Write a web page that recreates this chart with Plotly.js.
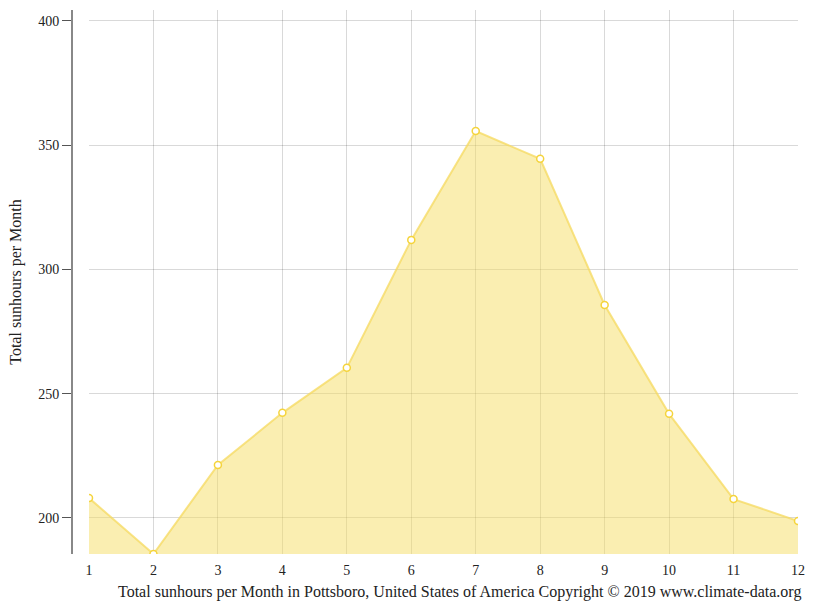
<!DOCTYPE html>
<html>
<head>
<meta charset="utf-8">
<script src="https://cdn.plot.ly/plotly-3.0.1.min.js"></script>
<style>html,body{margin:0;padding:0;background:#fff;}#chart{width:815px;height:611px;}</style>
</head>
<body>
<div id="chart"></div>
<script>
const months = [1, 2, 3, 4, 5, 6, 7, 8, 9, 10, 11, 12];
const sunhours = [208.0, 185.5, 221.3, 242.3, 260.4, 311.9, 355.7, 344.5, 285.7, 241.9, 207.6, 198.8];
const yTicks = [200, 250, 300, 350, 400];
const yTitle = 'Total sunhours per Month';
const xTitle = 'Total sunhours per Month in Pottsboro, United States of America Copyright © 2019 www.climate-data.org';

const font = 'Liberation Serif, Times New Roman, serif';

const trace = {
  x: months,
  y: sunhours,
  type: 'scatter',
  mode: 'lines+markers',
  fill: 'tozeroy',
  fillcolor: 'rgba(246, 221, 100, 0.5)',
  line: {color: 'rgba(246, 218, 95, 0.75)', width: 2},
  marker: {size: 7, color: '#ffffff', line: {color: '#f5d43c', width: 1.5}},
  hoverinfo: 'none'
};

const layout = {
  width: 815,
  height: 611,
  margin: {l: 89, r: 17, t: 10, b: 57},
  paper_bgcolor: '#ffffff',
  plot_bgcolor: '#ffffff',
  showlegend: false,
  font: {family: font, size: 14, color: '#222'},
  xaxis: {
    range: [1, 12],
    tickvals: months,
    ticktext: months.map(String),
    showgrid: true,
    gridcolor: 'rgba(0,0,0,0.15)',
    gridwidth: 1,
    zeroline: false,
    showline: false,
    ticks: '',
    ticklabelstandoff: 6,
    tickfont: {family: font, size: 14, color: '#222'},
    fixedrange: true
  },
  yaxis: {
    range: [185.5, 404.4],
    tickvals: yTicks,
    ticktext: yTicks.map(String),
    showgrid: true,
    gridcolor: 'rgba(0,0,0,0.15)',
    gridwidth: 1,
    zeroline: false,
    showline: true,
    linecolor: '#888',
    linewidth: 2,
    ticks: 'outside',
    ticklen: 9,
    tickwidth: 1,
    tickcolor: '#555',
    anchor: 'free',
    position: 0,
    shift: -17,
    tickfont: {family: font, size: 14, color: '#222'},
    title: {text: yTitle, font: {family: font, size: 16, color: '#222'}, standoff: 12},
    fixedrange: true
  },
  annotations: [{
    text: xTitle,
    xref: 'paper', yref: 'paper',
    x: (803 - 89) / 709, y: 0,
    xanchor: 'right', yanchor: 'middle',
    yshift: -38,
    showarrow: false,
    font: {family: font, size: 16, color: '#222'}
  }]
};

Plotly.newPlot('chart', [trace], layout, {displayModeBar: false, staticPlot: true});
</script>
</body>
</html>
